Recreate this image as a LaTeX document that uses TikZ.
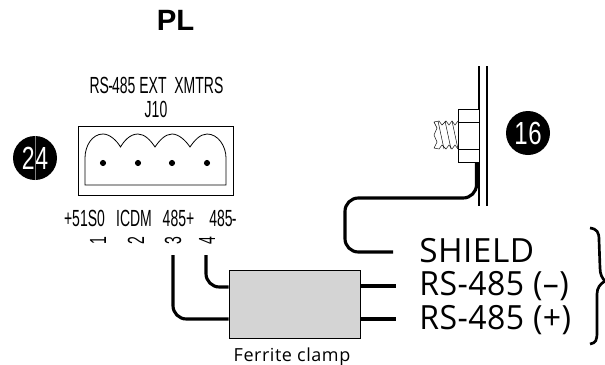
\documentclass[tikz,border=0pt]{standalone}
\usepackage{fontspec}
\setmainfont{Liberation Sans}
\newfontfamily\din[LetterSpace=1.5]{Open Sans}
\newfontfamily\fer[LetterSpace=3]{Open Sans}
\usetikzlibrary{calc}
\tikzset{
  x=0.75pt,y=-0.75pt,
  cond/.style={inner sep=0pt,font=\fontsize{17.5}{18}\selectfont},
  bigl/.style={inner sep=0pt,anchor=base west,font=\din\fontsize{25}{26}\selectfont},
  wire/.style={line width=2.35pt,rounded corners=10pt},
  stub/.style={line width=2.35pt},
  thin1/.style={line width=0.6pt},
  badge/.style={circle,fill=black,text=white,minimum size=33pt,inner sep=0pt,font=\fontsize{24}{24}\selectfont},
}
\newcommand{\cnd}[2]{\scalebox{#1}[1]{#2}}
\begin{document}
\begin{tikzpicture}
\useasboundingbox (0,0) rectangle (605,364);
\node[inner sep=0pt,font=\bfseries\fontsize{22}{22}\selectfont] (title) at (175.5,20.5) {PL};
% connector
\node[cond] (ttl) at (156.5,85) {\cnd{0.6}{RS\kern-1pt-\kern-1pt 485 EXT\ \ XMTRS}};
\node[cond] (jten) at (156,109) {\cnd{0.6}{J10}};
\node[draw,thin1,minimum width=116.25pt,minimum height=51.75pt,inner sep=0pt] (conn) at (155.5,160.5) {};
\draw[thin1] (85,185) -- (85,158) .. controls (85,146) and (92,134) .. (103,134)  .. controls (110,134) and (117,141) .. (120.5,147)
 .. controls (124,141) and (130,134) .. (138,134) .. controls (145,134) and (151,141) .. (155,147)
 .. controls (159,141) and (165,134) .. (172,134) .. controls (179,134) and (186,141) .. (190,147)
 .. controls (194,141) and (200,134) .. (207,134) .. controls (218,134) and (226,146) .. (226,158) -- (226,185) -- cycle;
\foreach \n/\x in {a/103,b/138,c/172,d/207}
  \fill (\x,163) circle (2.3pt) coordinate (dot\n);
\node[cond] (s1) at (84.5,218) {\cnd{0.6}{+51S0}};
\node[cond] (s2) at (134,218) {\cnd{0.6}{ICDM}};
\node[cond] (s3) at (178.5,218) {\cnd{0.6}{485+}};
\node[cond] (s4) at (223,218) {\cnd{0.6}{485\kern-1pt-}};
\node[cond,rotate=90] (p1) at (98,241) {\cnd{0.6}{1}};
\node[cond,rotate=90] (p2) at (136,241) {\cnd{0.6}{2}};
\node[cond,rotate=90] (p3) at (173,241) {\cnd{0.6}{3}};
\node[cond,rotate=90] (p4) at (207,241) {\cnd{0.6}{4}};
\node[badge] (b24) at (35,158) {\cnd{0.72}{2}\hspace{0.4pt}\cnd{0.72}{4}};
\draw[gray,line width=0.3pt] (b24.north) -- (b24.south);
% panel
\draw[line width=0.9pt] (479,66) -- (479,206);
\draw[line width=0.9pt] (487,66) -- (487,206);
\node[draw,thin1,fill=white,minimum width=15.75pt,minimum height=39.75pt,inner sep=0pt] (nut) at (468.5,135.5) {};
\draw[thin1] (458,122.5) -- (479,122.5) (458,149.5) -- (479,149.5);
% thread
\draw[line width=0.35pt] (458,121) -- (455,125) -- (452,121) -- (449,125) -- (446,121) -- (442,125) -- (439,121) -- (434,122)
  -- (437,128) -- (434,135) -- (437,142) -- (434,148) -- (439,149) -- (442,145) -- (446,149) -- (449,145) -- (452,149) -- (455,145) -- (458,149);
\foreach \a in {0,7,14}
  \draw[line width=0.35pt] (438+\a,121) -- (444+\a,149);
\node[badge] (b16) at (528,133) {\cnd{0.75}{1}\hspace{0.4pt}\cnd{0.75}{6}};
% clamp
\node[draw,line width=0.75pt,fill=black!17,minimum width=98.25pt,minimum height=51pt,inner sep=0pt] (clamp) at (294.5,304) {};
\node[inner sep=0pt,anchor=base,font=\fer\fontsize{13.5}{14}\selectfont] (flab) at (292,361) {Ferrite clamp};
\node[bigl] (shield) at (419,262) {SHIELD};
\node[bigl] (rsm) at (419,295.5) {\scalebox{0.96}[1]{RS-485 (–)}};
\node[bigl] (rsp) at (419,329) {\scalebox{0.96}[1]{RS-485 (+)}};
% wires
\coordinate (n1) at (476.5,162);
\coordinate (n2) at (393,252);
\coordinate (a1) at (206,255);
\coordinate (a2) at (173,255);
\coordinate (r1) at (396,286);
\coordinate (r2) at (396,319);
\draw[wire] (n1) -- (476.5,198) -- (345,198) -- (345,252) -- (n2);
\draw[wire] (a1) -- (206,287) -- (clamp.west |- 0,287);
\draw[wire] (a2) -- (173,319) -- (clamp.west |- 0,319);
\draw[stub] (clamp.east |- r1) -- (r1);
\draw[stub] (clamp.east |- r2) -- (r2);
% brace
\coordinate (bt) at (590,228);
\coordinate (bb) at (590,344);
\draw[line width=2pt] (bt) .. controls (597,229) and (599,232) .. (599,240) -- (600,268) .. controls (600,274) and (602,278) .. (605,281)
 .. controls (600,284) and (597,288) .. (597,294) -- (597,332) .. controls (597,340) and (596,343) .. (bb);
\end{tikzpicture}
\end{document}
